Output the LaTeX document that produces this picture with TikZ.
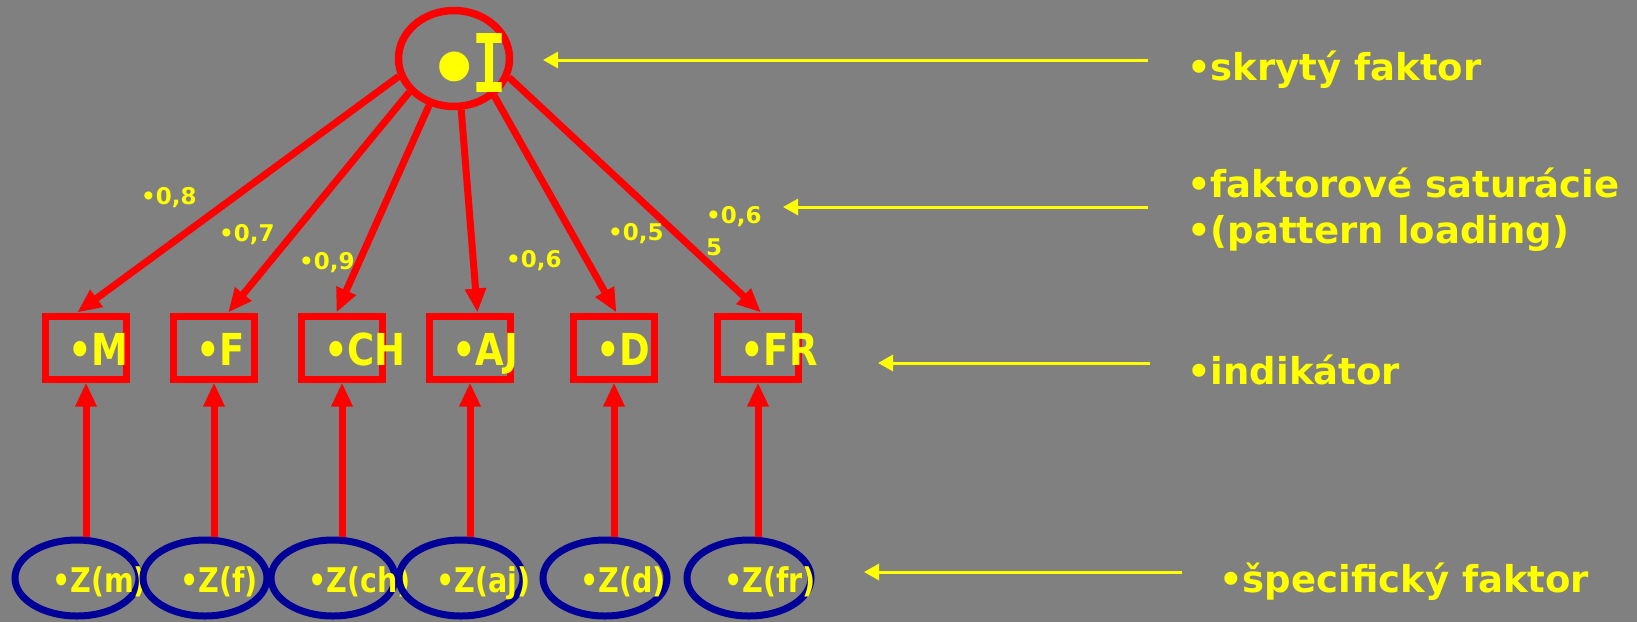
\documentclass[tikz,border=0pt]{standalone}
\usepackage{fontspec}
\usepackage{graphicx}
\setmainfont{DejaVu Sans}
\newfontfamily\djb{DejaVu Sans}[FakeStretch=0.84]
\newfontfamily\djn{DejaVu Sans}
\newfontfamily\monob{Liberation Mono}
\usetikzlibrary{arrows.meta,shapes.geometric,calc}
\definecolor{bg}{HTML}{808080}
\definecolor{yel}{HTML}{FFFF00}
\definecolor{blu}{HTML}{000099}
\begin{document}
\begin{tikzpicture}[x=1pt,y=-1pt,
  redarr/.style={draw=red, line width=7pt, -{Triangle[length=24pt,width=20pt]}},
  yelarr/.style={draw=yel, line width=3pt, -{Triangle[length=15pt,width=16pt]}},
  boxnode/.style={draw=red, line width=7pt, minimum width=81pt, minimum height=63pt, inner sep=0pt},
  zell/.style={ellipse, draw=blu, line width=7pt, minimum width=124pt, minimum height=76pt, inner sep=0pt},
  topell/.style={ellipse, draw=red, line width=7.5pt, minimum width=111pt, minimum height=96pt, inner sep=0pt},
  boxtxt/.style={anchor=base west, inner sep=0pt, text=yel, font={\djb\bfseries\fontsize{44pt}{44pt}\selectfont}},
  ztxt/.style={anchor=base west, inner sep=0pt, text=yel, font={\djb\bfseries\fontsize{34pt}{34pt}\selectfont}},
  numtxt/.style={anchor=base west, inner sep=0pt, text=yel, font={\djn\bfseries\fontsize{23pt}{32pt}\selectfont}, align=left},
  sidetxt/.style={anchor=base west, inner sep=0pt, text=yel, font={\djn\bfseries\fontsize{37pt}{46pt}\selectfont}, align=left}
]
\fill[bg] (0,0) rectangle (1637,622);
\useasboundingbox (0,0) rectangle (1637,622);

% latent factor
\node[topell] (top) at (454,58.5) {};
\node[anchor=base west, inner sep=0pt, text=yel] (toptxt) at (427,98)
  {{\djn\bfseries\fontsize{85pt}{85pt}\selectfont •}\kern-9pt\raisebox{6pt}{\resizebox{34pt}{59pt}{\monob\bfseries I}}};

% indicator boxes
\node[boxnode] (bm)  at (86,347.5) {};
\node[boxtxt] (tm) at (68,365) {•M};
\node[boxnode] (bf)  at (214,347.5) {};
\node[boxtxt] (tf) at (196,365) {•F};
\node[boxnode] (bch) at (342,347.5) {};
\node[boxtxt] (tch) at (324,365) {•CH};
\node[boxnode] (baj) at (470,347.5) {};
\node[boxtxt] (taj) at (452,365) {•AJ};
\node[boxnode] (bd)  at (614,347.5) {};
\node[boxtxt] (td) at (596,365) {•D};
\node[boxnode] (bfr) at (758,347.5) {};
\node[boxtxt] (tfr) at (740,365) {•FR};

% loadings arrows
\draw[redarr] (top.198) -- (bm.104);
\draw[redarr] (top.217) -- (bf.68.5);
\draw[redarr] (top.242) -- (bch.99.6);
\draw[redarr] (top.278.8) -- (baj.78.8);
\draw[redarr] (top.317.6) -- (bd.86.8);
\draw[redarr] (top.341) -- (bfr.85.2);

% loading labels
\node[numtxt] (l1) at (141,204) {•0,8};
\node[numtxt] (l2) at (219,241) {•0,7};
\node[numtxt] (l3) at (299,269) {•0,9};
\node[numtxt] (l4) at (506,267) {•0,6};
\node[numtxt] (l5) at (608,240) {•0,5};
\node[numtxt] (l6) at (706,255) {•0,6\\5};

% specific factors
\node[zell] (zm) at (77,578) {};
\draw[redarr] (zm.north -| bm.south) -- (bm.south);
\node[ztxt] (tzm) at (52,592) {•Z(m)};
\node[zell] (zf) at (205,578) {};
\draw[redarr] (zf.north -| bf.south) -- (bf.south);
\node[ztxt] (tzf) at (180,592) {•Z(f)};
\node[zell] (zch) at (333,578) {};
\draw[redarr] (zch.north -| bch.south) -- (bch.south);
\node[ztxt] (tzch) at (308,592) {•Z(ch)};
\node[zell] (zaj) at (461,578) {};
\draw[redarr] (zaj.north -| baj.south) -- (baj.south);
\node[ztxt] (tzaj) at (436,592) {•Z(aj)};
\node[zell] (zd) at (605,578) {};
\draw[redarr] (zd.north -| bd.south) -- (bd.south);
\node[ztxt] (tzd) at (580,592) {•Z(d)};
\node[zell] (zfr) at (749,578) {};
\draw[redarr] (zfr.north -| bfr.south) -- (bfr.south);
\node[ztxt] (tzfr) at (724,592) {•Z(fr)};

% side annotations
\node[sidetxt] (s1) at (1187,80) {•skrytý faktor};
\node[sidetxt] (s2) at (1187,243) {•faktorové saturácie\\•(pattern loading)};
\node[sidetxt] (s3) at (1187,384) {•indikátor};
\node[sidetxt] (s4) at (1219,592) {•špecifický faktor};

\coordinate (a1s) at (1148,60);  \coordinate (a1e) at (543,60);
\coordinate (a2s) at (1148,207); \coordinate (a2e) at (783,207);
\coordinate (a3s) at (1150,363); \coordinate (a3e) at (878,363);
\coordinate (a4s) at (1182,572); \coordinate (a4e) at (864,572);
\draw[yelarr] (a1s) -- (a1e);
\draw[yelarr] (a2s) -- (a2e);
\draw[yelarr] (a3s) -- (a3e);
\draw[yelarr] (a4s) -- (a4e);
\end{tikzpicture}
\end{document}
